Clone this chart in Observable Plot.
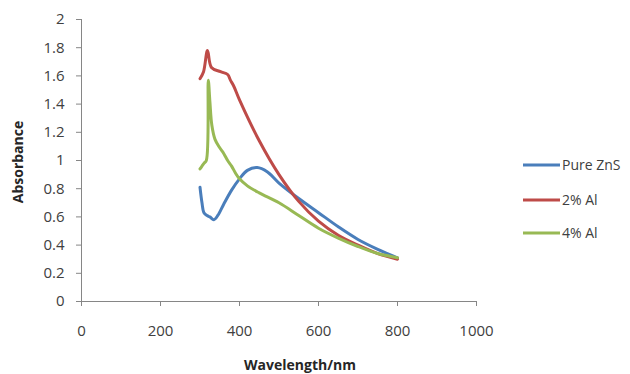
<!DOCTYPE html>
<html><head><meta charset="utf-8">
<script src="https://cdn.jsdelivr.net/npm/d3@7"></script>
<script src="https://cdn.jsdelivr.net/npm/@observablehq/plot@0.6"></script>
<style>body{margin:0;background:#fff}svg{font-family:"Open Sans",sans-serif}</style>
</head><body><div id="chart"></div>
<script>
const seriesNames = ["Pure ZnS", "2% Al", "4% Al"];
const seriesColors = ["#4a7ebb", "#be4b48", "#98b954"];
const xTicks = [0, 200, 400, 600, 800, 1000];
const yTicks = [0, 0.2, 0.4, 0.6, 0.8, 1, 1.2, 1.4, 1.6, 1.8, 2];

const wlZnS = [300, 305, 310, 318, 325, 335, 345, 360, 380, 400, 420, 445, 470, 500, 550, 600, 650, 700, 750, 800];
const absZnS = [0.81, 0.70, 0.63, 0.61, 0.60, 0.58, 0.61, 0.69, 0.79, 0.87, 0.93, 0.95, 0.92, 0.84, 0.73, 0.63, 0.53, 0.44, 0.37, 0.31];

const wlAl2 = [300, 309, 319, 329, 352, 370, 377, 385, 400, 450, 500, 550, 600, 650, 700, 750, 800];
const absAl2 = [1.58, 1.63, 1.78, 1.66, 1.63, 1.61, 1.57, 1.53, 1.43, 1.14, 0.90, 0.71, 0.57, 0.47, 0.40, 0.34, 0.30];

const wlAl4 = [300, 305, 310, 316, 321, 325, 330, 338, 350, 360, 370, 380, 390, 400, 420, 450, 500, 550, 600, 650, 700, 750, 800];
const absAl4 = [0.94, 0.96, 0.98, 1.00, 1.57, 1.42, 1.25, 1.15, 1.09, 1.05, 1.00, 0.96, 0.91, 0.87, 0.82, 0.77, 0.70, 0.61, 0.52, 0.45, 0.39, 0.34, 0.31];

const series = [
  {name: seriesNames[0], wl: wlZnS, abs: absZnS},
  {name: seriesNames[1], wl: wlAl2, abs: absAl2},
  {name: seriesNames[2], wl: wlAl4, abs: absAl4}
];
const rows = series.flatMap(s => s.wl.map((w, i) => ({series: s.name, wl: w, abs: s.abs[i]})));

const W = 630, H = 374, mL = 81, mR = 154, mT = 19, mB = 73;
const axisColor = "#868686", textColor = "#404040";
const yFmt = d => String(+d.toFixed(1));

const chart = Plot.plot({
  width: W, height: H,
  marginLeft: mL, marginRight: mR, marginTop: mT, marginBottom: mB,
  style: {fontFamily: "Open Sans, sans-serif", fontSize: "15px", color: textColor, background: "#fff"},
  x: {domain: [0, 1000], label: null},
  y: {domain: [0, 2], label: null},
  color: {domain: seriesNames, range: seriesColors},
  marks: [
    Plot.axisX({ticks: xTicks, tickSize: 5, tickPadding: 19, stroke: axisColor, fill: textColor, label: null, tickFormat: d => String(d)}),
    Plot.axisY({ticks: yTicks, tickSize: 5, tickPadding: 12, stroke: axisColor, fill: textColor, label: null, tickFormat: yFmt}),
    Plot.ruleX([0], {stroke: axisColor}),
    Plot.ruleY([0], {stroke: axisColor}),
    Plot.line(rows, {x: "wl", y: "abs", z: "series", stroke: "series", strokeWidth: 3, curve: "catmull-rom"})
  ]
});

const svg = d3.select(chart.tagName === "svg" ? chart : chart.querySelector("svg"));
svg.append("text").attr("x", 300).attr("y", 370).attr("text-anchor", "middle")
  .attr("font-weight", "bold").attr("font-size", 14).attr("fill", "#262626").text("Wavelength/nm");
svg.append("text").attr("transform", "translate(23,162) rotate(-90)").attr("text-anchor", "middle")
  .attr("font-weight", "bold").attr("font-size", 14).attr("fill", "#262626").text("Absorbance");
const legendY = [165, 200, 233];
const lg = svg.append("g").attr("text-anchor", "start");
seriesNames.forEach((n, i) => {
  lg.append("line").attr("x1", 523).attr("x2", 560).attr("y1", legendY[i]).attr("y2", legendY[i])
    .attr("stroke", seriesColors[i]).attr("stroke-width", 3);
  lg.append("text").attr("x", 562).attr("y", legendY[i] + 5).attr("text-anchor", "start")
    .attr("font-size", 14).attr("fill", textColor).text(n);
});
document.getElementById("chart").appendChild(chart);
</script></body></html>
